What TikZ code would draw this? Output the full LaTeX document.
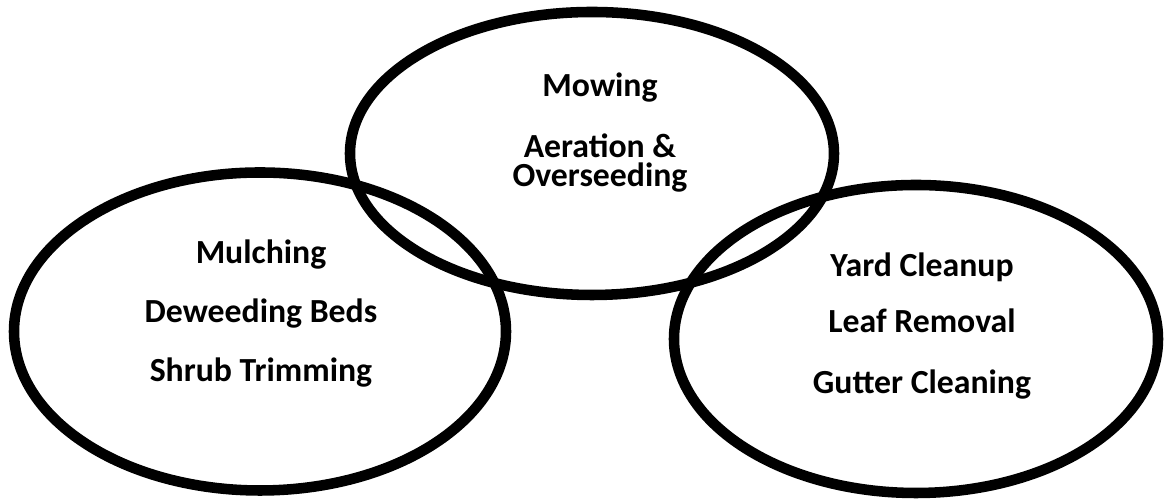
\documentclass[tikz,border=0pt]{standalone}
\usepackage{fontspec}
\setmainfont{Carlito}
\usepackage{tikz}

\tikzset{
  ring/.style={line width=3pt},
  service/.style={anchor=base, font=\bfseries\fontsize{9.6}{9.6}\selectfont, inner sep=0pt},
  pair/.style={service, anchor=center, align=center, font=\bfseries\fontsize{9.6}{8.2}\selectfont}
}

\begin{document}
\begin{tikzpicture}
\useasboundingbox (0,0) rectangle (11.68,5.00);

% three rings
\draw [ring] (5.92, 3.465) ellipse (2.42 and 1.415);
\draw [ring] (2.60, 1.685) ellipse (2.46 and 1.59);
\draw [ring] (9.16, 1.61) ellipse (2.42 and 1.54);

% top ring
\node [service] (mowing) at (6.00, 4.03) {Mowing};
\node [pair] (aeration) at (6.00, 3.37) {Aeration \&\\Overseeding};

% left ring
\node [service] (mulch) at (2.61, 2.36) {Mulching};
\node [service] (deweed) at (2.61, 1.77) {Deweeding Beds};
\node [service] (shrub) at (2.61, 1.18) {Shrub Trimming};

% right ring
\node [service] (yard) at (9.22, 2.23) {Yard Cleanup};
\node [service] (leaf) at (9.22, 1.67) {Leaf Removal};
\node [service] (gutter) at (9.22, 1.06) {Gutter Cleaning};

\end{tikzpicture}
\end{document}
